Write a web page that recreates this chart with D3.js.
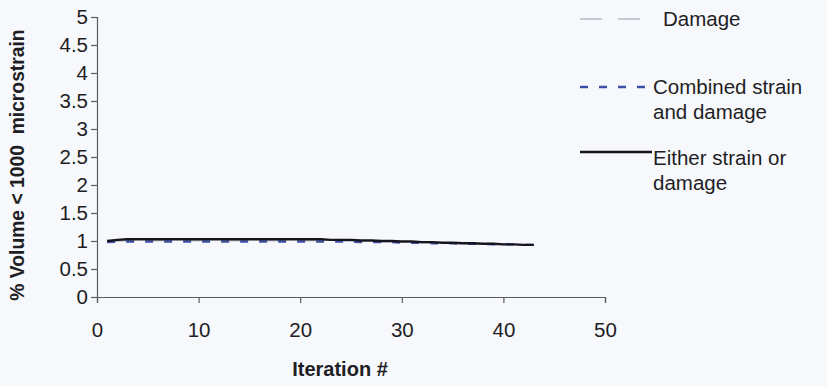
<!DOCTYPE html>
<html>
<head>
<meta charset="utf-8">
<script src="https://cdn.jsdelivr.net/npm/d3@7"></script>
<style>
  html, body { margin: 0; padding: 0; background: #f7f8fb; }
  svg { display: block; font-family: "Liberation Sans", Arial, sans-serif; }
  text { fill: #1e1e24; }
</style>
</head>
<body>
<svg id="chart" width="827" height="386"></svg>
<script>
// Iterations 1..43
const iterations = d3.range(1, 44);

// % volume below 1000 microstrain per iteration
const damage = [
  1.00, 1.00, 1.01, 1.01, 1.01, 1.01, 1.01, 1.01, 1.01, 1.01,
  1.01, 1.01, 1.01, 1.01, 1.01, 1.01, 1.01, 1.01, 1.01, 1.01,
  1.01, 1.01, 1.01, 1.00, 1.00, 1.00, 0.99, 0.99, 0.99, 0.98,
  0.98, 0.97, 0.97, 0.97, 0.96, 0.96, 0.95, 0.95, 0.95, 0.94,
  0.94, 0.93, 0.93
];
const combined = [
  0.98, 0.99, 0.99, 0.99, 0.99, 0.99, 0.99, 0.99, 0.99, 0.99,
  0.99, 0.99, 0.99, 0.99, 0.99, 0.99, 0.99, 0.99, 0.99, 0.99,
  0.99, 0.99, 0.99, 0.99, 0.99, 0.98, 0.98, 0.98, 0.98, 0.97,
  0.97, 0.97, 0.96, 0.96, 0.96, 0.95, 0.95, 0.95, 0.94, 0.94,
  0.94, 0.93, 0.93
];
const either = [
  1.00, 1.02, 1.03, 1.03, 1.03, 1.03, 1.03, 1.03, 1.03, 1.03,
  1.03, 1.03, 1.03, 1.03, 1.03, 1.03, 1.03, 1.03, 1.03, 1.03,
  1.03, 1.03, 1.02, 1.02, 1.02, 1.01, 1.01, 1.00, 1.00, 0.99,
  0.99, 0.98, 0.98, 0.97, 0.97, 0.96, 0.96, 0.95, 0.95, 0.94,
  0.94, 0.93, 0.93
];

const xTicks = [0, 10, 20, 30, 40, 50];
const yTicks = [0, 0.5, 1, 1.5, 2, 2.5, 3, 3.5, 4, 4.5, 5];

const seriesNames = ["Damage", "Combined strain\nand damage", "Either strain or\ndamage"];

const svg = d3.select("#chart");

const x = d3.scaleLinear().domain([0, 50]).range([97, 605]);
const y = d3.scaleLinear().domain([0, 5]).range([297, 17]);

// axes
const xAxis = svg.append("g")
  .attr("transform", `translate(0,${y(0)})`)
  .call(d3.axisBottom(x).tickValues(xTicks).tickSize(6).tickPadding(19).tickFormat(d3.format("d")));
const yAxis = svg.append("g")
  .attr("transform", `translate(${x(0)},0)`)
  .call(d3.axisLeft(y).tickValues(yTicks).tickSize(6).tickPadding(3).tickFormat(d => String(d)));

[xAxis, yAxis].forEach(g => {
  g.selectAll("path.domain").attr("stroke", "#5a5a62").attr("stroke-width", 1.2);
  g.selectAll(".tick line").attr("stroke", "#5a5a62").attr("stroke-width", 1.2);
  g.selectAll(".tick text").attr("font-size", 20.5).attr("font-family", "Liberation Sans, Arial, sans-serif").attr("fill", "#1e1e24");
});

// axis titles
svg.append("text")
  .attr("x", 340).attr("y", 376)
  .attr("text-anchor", "middle")
  .attr("font-size", 20).attr("font-weight", "bold")
  .text("Iteration #");

svg.append("text")
  .attr("transform", `translate(24,${(y(0) + y(5)) / 2 + 8}) rotate(-90)`)
  .attr("text-anchor", "middle")
  .attr("font-size", 19.3).attr("font-weight", "bold")
  .style("white-space", "pre")
  .text("% Volume < 1000  microstrain");

// lines
const styles = [
  { data: damage, stroke: "#c4c8d2", width: 2, dash: "22,16" },
  { data: combined, stroke: "#3c4fa8", width: 2.4, dash: "8,11" },
  { data: either, stroke: "#16141e", width: 2.4, dash: null }
];

const line = d3.line().x((d, i) => x(iterations[i])).y(d => y(d));

styles.forEach(s => {
  svg.append("path")
    .datum(s.data)
    .attr("fill", "none")
    .attr("stroke", s.stroke)
    .attr("stroke-width", s.width)
    .attr("stroke-dasharray", s.dash)
    .attr("d", line);
});

// legend
const legendRows = [
  { y: 19, textY: 26 },
  { y: 87, textY: 94 },
  { y: 152, textY: 165 }
];
styles.forEach((s, i) => {
  const r = legendRows[i];
  svg.append("line")
    .attr("x1", 580).attr("x2", i === 0 ? 645 : 652)
    .attr("y1", r.y).attr("y2", r.y)
    .attr("stroke", s.stroke)
    .attr("stroke-width", s.width)
    .attr("stroke-dasharray", s.dash);
  const tx = i === 0 ? 663 : 653;
  const t = svg.append("text")
    .attr("x", tx).attr("y", r.textY)
    .attr("font-size", 20.5);
  seriesNames[i].split("\n").forEach((ln, k) => {
    t.append("tspan").attr("x", tx).attr("dy", k === 0 ? 0 : 25).text(ln);
  });
});
</script>
</body>
</html>
